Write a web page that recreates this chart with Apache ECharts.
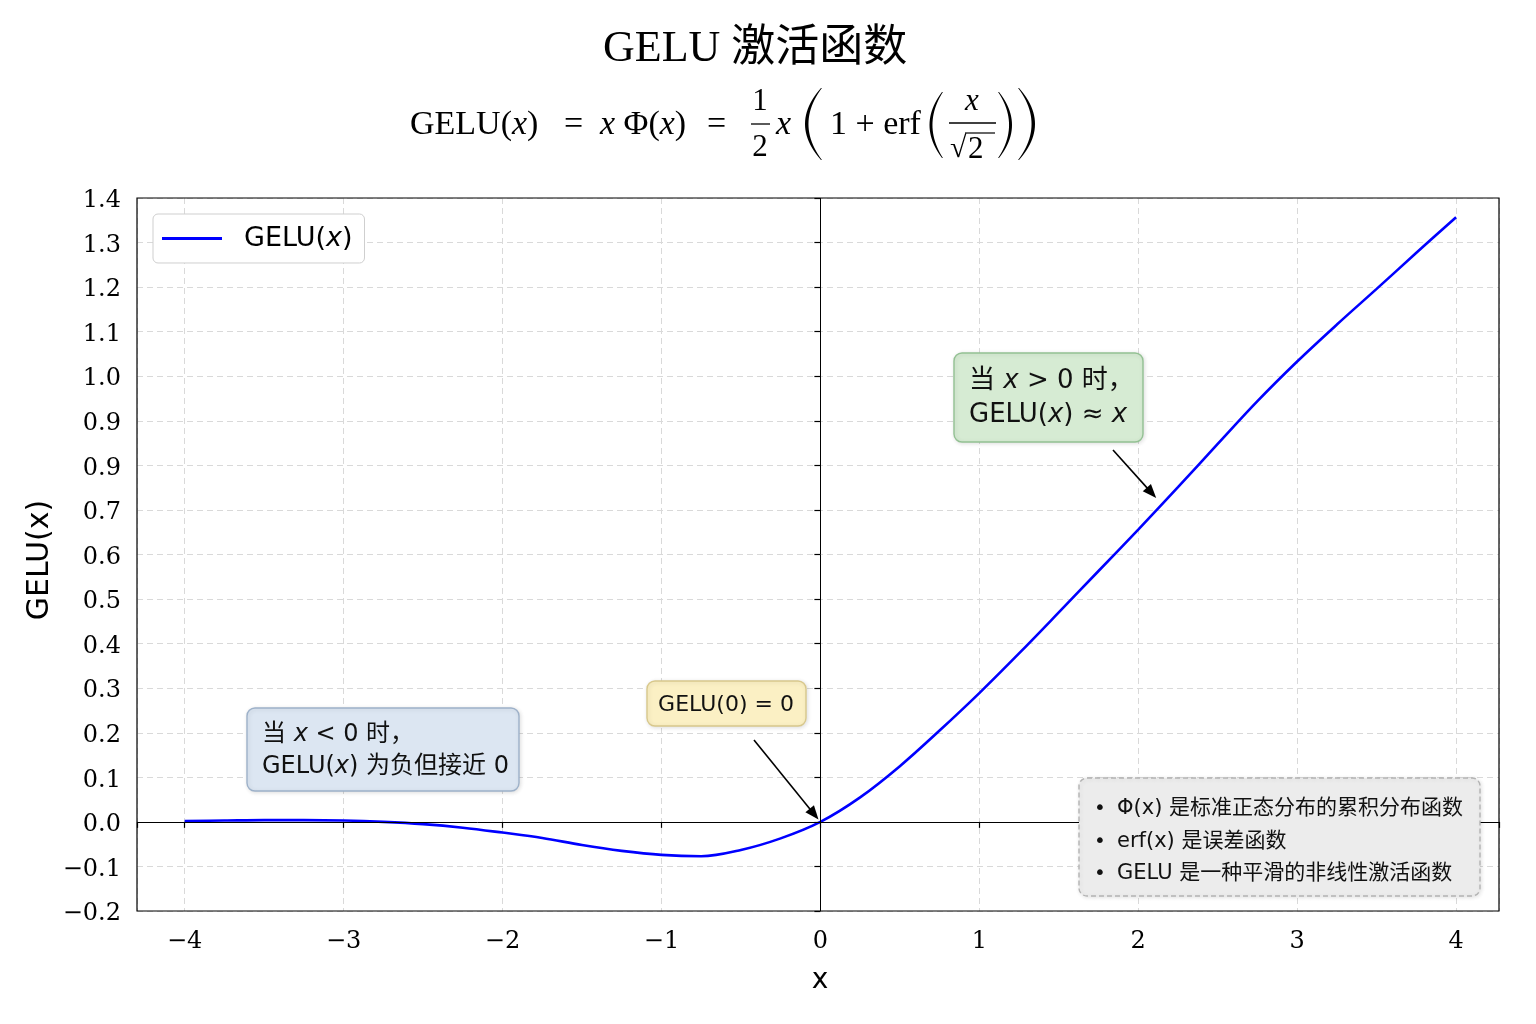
<!DOCTYPE html>
<html><head><meta charset="utf-8">
<script src="https://cdn.jsdelivr.net/npm/echarts@6/dist/echarts.min.js"></script>
<style>html,body{margin:0;padding:0;background:#fff}#c{width:1536px;height:1024px}</style>
</head><body><div id="c"></div>
<script>
// ---- data ----
const xValues = [-4,-3.75,-3.5,-3.25,-3,-2.75,-2.5,-2.25,-2,-1.75,-1.5,-1.25,-1,-0.75,-0.5,-0.25,0,0.25,0.5,0.75,1,1.25,1.5,1.75,2,2.25,2.5,2.75,3,3.25,3.5,3.75,4];
const geluValues = [0.002,0.003,0.004,0.004,0.003,0.0,-0.005,-0.013,-0.024,-0.036,-0.052,-0.065,-0.074,-0.077,-0.063,-0.037,0,0.055,0.125,0.205,0.289,0.378,0.47,0.563,0.656,0.751,0.848,0.944,1.033,1.116,1.196,1.277,1.357];
const xTickValues = [-4,-3,-2,-1,0,1,2,3,4];
const xTickLabels = ['\u22124','\u22123','\u22122','\u22121','0','1','2','3','4'];
const yTickLabels = ['\u22120.2','\u22120.1','0.0','0.1','0.2','0.3','0.4','0.5','0.6','0.7','0.9','0.9','1.0','1.1','1.2','1.3','1.4'];
const seriesName = 'GELU(x)';
const titleText = 'GELU 激活函数';
const arrowTargetZero = [0, 0];
const arrowTargetPos = [2.13, 0.72];
const noteLines = ['\u03a6(x) 是标准正态分布的累积分布函数', 'erf(x) 是误差函数', 'GELU 是一种平滑的非线性激活函数'];

const SERIF = "'DejaVu Serif', serif";
const SANS = "'DejaVu Sans', 'Noto Sans CJK SC', sans-serif";
const TEX = "'Liberation Serif', 'DejaVu Serif', serif";

const chart = echarts.init(document.getElementById('c'), null, {renderer: 'canvas'});

const option = {
  backgroundColor: '#ffffff',
  animation: false,
  title: {
    text: titleText, left: 598, top: 22,
    textStyle: {fontFamily: "'Liberation Serif', 'Noto Sans CJK SC', serif", fontSize: 44, fontWeight: 'normal', color: '#000'}
  },
  grid: {left: 137, right: 37, top: 198, bottom: 113, show: false},
  legend: {
    data: [seriesName], left: 153, top: 214, orient: 'vertical',
    icon: 'rect', itemWidth: 60, itemHeight: 3,
    padding: [11, 12, 11, 9],
    backgroundColor: '#fff', borderColor: '#cfcfcf', borderWidth: 1, borderRadius: 5,
    formatter: () => '{n|GELU(}{i|x}{n|)}',
    textStyle: {
      fontFamily: SANS, fontSize: 27, color: '#000', padding: [0, 0, 0, 17],
      rich: {n: {fontFamily: SANS, fontSize: 27, color: '#000'}, i: {fontFamily: SANS, fontSize: 27, fontStyle: 'italic', color: '#000'}}
    }
  },
  xAxis: {
    type: 'value', min: -4.3, max: 4.27, splitNumber: 8,
    axisLine: {show: false},
    axisTick: {show: true, length: 6, lineStyle: {color: '#000', width: 1.2}},
    axisLabel: {
      margin: 19, fontFamily: SERIF, fontSize: 24, color: '#000',
      formatter: v => {
        const k = xTickValues.findIndex(t => Math.abs(t - v) < 1e-6);
        return k >= 0 ? xTickLabels[k] : '';
      }
    },
    splitLine: {show: true, lineStyle: {type: [6, 4], color: '#d9d9d9', width: 1}}
  },
  yAxis: {
    type: 'value', min: -0.2, max: 1.4, interval: 0.1,
    axisLine: {show: false},
    axisTick: {show: true, length: 6, lineStyle: {color: '#000', width: 1.2}},
    axisLabel: {
      margin: 16, color: '#000',
      formatter: v => '{v|' + (yTickLabels[Math.round((v + 0.2) / 0.1)] || '') + '}',
      rich: {v: {fontFamily: SERIF, fontSize: 24, color: '#000', padding: [6, 0, 0, 0]}}
    },
    splitLine: {show: true, lineStyle: {type: [6, 4], color: '#d9d9d9', width: 1}}
  },
  series: [{
    type: 'line', name: seriesName,
    data: xValues.map((x, i) => [x, geluValues[i]]),
    symbol: 'none', showSymbol: false, smooth: 0.35,
    lineStyle: {color: '#0000ff', width: 2.6}, itemStyle: {color: '#0000ff'},
    markLine: {
      silent: true, symbol: 'none', label: {show: false}, animation: false,
      lineStyle: {color: '#000', width: 1, type: 'solid'},
      data: [{xAxis: 0}, {yAxis: 0}]
    },
    z: 3
  }]
};
chart.setOption(option);

// ---------- graphic overlay ----------
function T(x, y, text, size, extra) {
  return {
    type: 'text', x: x, y: y, z: 20,
    style: Object.assign({
      text: text, fontFamily: TEX, fontSize: size, fill: '#000',
      align: 'left', verticalAlign: 'middle',
      rich: {
        r: {fontFamily: TEX, fontSize: size, fill: '#000'},
        i: {fontFamily: TEX, fontSize: size, fontStyle: 'italic', fill: '#000'}
      }
    }, extra || {})
  };
}
function L(x1, y1, x2, y2, w, color, dash) {
  const st = {stroke: color || '#000', lineWidth: w || 1.3};
  if (dash) st.lineDash = dash;
  return {type: 'line', z: 20, shape: {x1, y1, x2, y2}, style: st};
}
function quad(p0, c, p1, n) {
  const pts = [];
  for (let k = 0; k <= n; k++) {
    const t = k / n, a = (1 - t) * (1 - t), b = 2 * (1 - t) * t, d = t * t;
    pts.push([a * p0[0] + b * c[0] + d * p1[0], a * p0[1] + b * c[1] + d * p1[1]]);
  }
  return pts;
}
function paren(xe, y0, y1, xo, xi, s) {
  const ym = (y0 + y1) / 2;
  const outer = quad([xe, y0], [xo, ym], [xe, y1], 24);
  const inner = quad([xe + s, y1], [xi, ym], [xe + s, y0], 24);
  return {type: 'polygon', z: 20, shape: {points: outer.concat(inner)}, style: {fill: '#000'}};
}
function box(x, y, w, h, fill, stroke, dash) {
  const st = {fill: fill, stroke: stroke, lineWidth: 1.4, shadowBlur: 4, shadowColor: 'rgba(0,0,0,0.12)', shadowOffsetX: 1, shadowOffsetY: 1};
  if (dash) st.lineDash = dash;
  return {type: 'rect', z: 15, shape: {x, y, width: w, height: h, r: 8}, style: st};
}
function S(x, y, text, size, extra) {
  return {
    type: 'text', x: x, y: y, z: 21,
    style: Object.assign({
      text: text, fontFamily: SANS, fontSize: size, fill: '#111', align: 'left', verticalAlign: 'middle',
      rich: {
        n: {fontFamily: SANS, fontSize: size, fill: '#111'},
        i: {fontFamily: SANS, fontSize: size, fontStyle: 'italic', fill: '#111'}
      }
    }, extra || {})
  };
}
function arrow(start, target, shrink) {
  const t = chart.convertToPixel({gridIndex: 0}, target);
  let dx = t[0] - start[0], dy = t[1] - start[1];
  const len = Math.sqrt(dx * dx + dy * dy); dx /= len; dy /= len;
  const tip = [t[0] - dx * shrink, t[1] - dy * shrink];
  const hl = 14, hw = 5.5;
  const base = [tip[0] - dx * hl, tip[1] - dy * hl];
  const px = -dy, py = dx;
  return [
    {type: 'line', z: 22, shape: {x1: start[0], y1: start[1], x2: base[0] + dx * 2, y2: base[1] + dy * 2}, style: {stroke: '#000', lineWidth: 1.6}},
    {type: 'polygon', z: 22, shape: {points: [tip, [base[0] + px * hw, base[1] + py * hw], [base[0] - px * hw, base[1] - py * hw]]}, style: {fill: '#000'}}
  ];
}

const g = [];
const c0 = chart.convertToPixel({gridIndex: 0}, [-4.3, 1.4]);
const c1 = chart.convertToPixel({gridIndex: 0}, [4.27, -0.2]);
g.push({type: 'rect', z: 18, shape: {x: c0[0], y: c0[1], width: c1[0] - c0[0], height: c1[1] - c0[1]}, style: {fill: null, stroke: '#000', lineWidth: 1.2}});

// formula
const F = 34;
g.push(T(410, 125, '{r|GELU(}{i|x}{r|)}', F));
g.push(T(564, 125, '=', F));
g.push(T(600, 125, '{i|x}{r| \u03a6(}{i|x}{r|)}', F));
g.push(T(707, 125, '=', F));
g.push(T(760, 102, '1', 31, {align: 'center'}));
g.push(L(751, 124, 770, 124, 1.3));
g.push(T(760, 148, '2', 31, {align: 'center'}));
g.push(T(776, 125, '{i|x}', F));
g.push(paren(821, 88, 160, 789, 795, 0.9));
g.push(T(830, 125, '1 + erf', F));
g.push(paren(942, 92, 158, 917, 922, 0.9));
g.push(T(972, 102, '{i|x}', 31, {align: 'center'}));
g.push(L(949, 123, 996, 123, 1.3));
g.push(T(950, 149, '\u221a', 30));
g.push(L(965, 133, 995, 133, 1.2));
g.push(T(968, 150, '2', 31));
g.push(paren(999, 92, 158, 1025, 1020, -0.9));
g.push(paren(1019, 88, 160, 1051, 1045, -0.9));

// axis titles
g.push(S(820, 981, 'x', 28, {align: 'center', fill: '#000'}));
g.push({type: 'text', x: 40, y: 560, rotation: Math.PI / 2, z: 21,
  style: {text: 'GELU(x)', fontFamily: SANS, fontSize: 30, fill: '#000', align: 'center', verticalAlign: 'middle'}});

// annotation boxes
g.push(box(247, 708, 272, 83, '#dce6f2', '#9db1c9'));
g.push(S(262, 735, '{n|当 }{i|x}{n| < 0 时，}', 24));
g.push(S(262, 767, '{n|GELU(}{i|x}{n|) 为负但接近 0}', 24));

g.push(box(647, 681, 159, 45, '#fbf0c4', '#d8c88c'));
g.push(S(726, 705, 'GELU(0) = 0', 22, {align: 'center'}));

g.push(box(954, 353, 189, 89, '#d6ebd3', '#93c193'));
g.push(S(969, 381, '{n|当 }{i|x}{n| > 0 时，}', 26));
g.push(S(969, 415, '{n|GELU(}{i|x}{n|) ≈ }{i|x}', 26));

g.push(box(1079, 778, 401, 118, '#ececec', '#b3b3b3', [5, 3]));
const noteY = [809, 842, 874];
noteLines.forEach((t, k) => {
  g.push(S(1100, noteY[k], '•', 20, {align: 'center'}));
  g.push(S(1117, noteY[k], t, 21));
});

// arrows
arrow([754, 740], arrowTargetZero, 3).forEach(e => g.push(e));
arrow([1113, 450], arrowTargetPos, 4).forEach(e => g.push(e));

chart.setOption({graphic: {elements: g}});
</script>
</body></html>
